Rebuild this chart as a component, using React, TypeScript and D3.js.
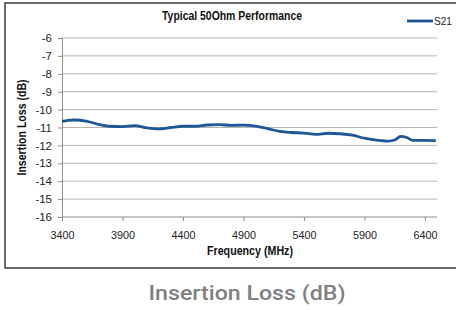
import { useEffect, useRef } from "react";
import * as d3 from "d3";

const freqMHz = [3400, 3450, 3500, 3600, 3700, 3800, 3900, 4000, 4100, 4200, 4300, 4400, 4500, 4600, 4700, 4800, 4900, 5000, 5100, 5200, 5300, 5400, 5500, 5600, 5700, 5800, 5900, 6000, 6100, 6150, 6200, 6250, 6300, 6400, 6490];
const s21 = [-10.66, -10.6, -10.58, -10.64, -10.82, -10.93, -10.95, -10.9, -11.02, -11.08, -11.0, -10.93, -10.93, -10.86, -10.84, -10.88, -10.87, -10.92, -11.06, -11.22, -11.28, -11.31, -11.38, -11.32, -11.35, -11.43, -11.6, -11.7, -11.76, -11.7, -11.5, -11.56, -11.72, -11.72, -11.74];
const xTicks = [3400, 3900, 4400, 4900, 5400, 5900, 6400];
const yTicks = [-6, -7, -8, -9, -10, -11, -12, -13, -14, -15, -16];

const W = 456, H = 310;
const m = { l: 62, r: 19, t: 38, b: 93 };
const font = "'Liberation Sans', Arial, sans-serif";

export default function App() {
  const ref = useRef<SVGSVGElement | null>(null);

  useEffect(() => {
    const svg = d3.select(ref.current);
    svg.selectAll("*").remove();

    const x = d3.scaleLinear().domain([3400, 6500]).range([m.l, W - m.r]);
    const y = d3.scaleLinear().domain([-16, -6]).range([H - m.b, m.t]);

    svg.append("rect").attr("width", W).attr("height", H).attr("fill", "white");

    // chart frame
    svg.append("rect")
      .attr("x", 5).attr("y", 3)
      .attr("width", W + 10).attr("height", 265)
      .attr("fill", "white")
      .attr("stroke", "#3a3a3a")
      .attr("stroke-width", 1.5);

    // grid
    svg.append("g")
      .selectAll("line")
      .data(yTicks.filter(d => d !== -16))
      .enter()
      .append("line")
      .attr("x1", m.l).attr("x2", W - m.r)
      .attr("y1", d => y(d)).attr("y2", d => y(d))
      .attr("stroke", "#b4b4b4")
      .attr("stroke-width", 1);

    const ay = d3.axisLeft(y).tickValues(yTicks).tickSize(4).tickPadding(6).tickFormat(d => String(d));
    svg.append("g")
      .attr("transform", `translate(${m.l},0)`)
      .call(ay as any)
      .call((g: any) => g.selectAll("path,line").attr("stroke", "#8c8c8c"))
      .call((g: any) => g.selectAll("text").attr("fill", "#222").attr("font-size", 11.5).attr("font-family", font));

    const ax = d3.axisBottom(x).tickValues(xTicks).tickSize(4).tickPadding(10).tickFormat(d => String(d));
    svg.append("g")
      .attr("transform", `translate(0,${H - m.b})`)
      .call(ax as any)
      .call((g: any) => g.select("path").attr("d", `M${m.l},0H${W - m.r}`))
      .call((g: any) => g.selectAll("path,line").attr("stroke", "#8c8c8c"))
      .call((g: any) => g.selectAll("text").attr("fill", "#222").attr("font-size", 11).attr("font-family", font)
        .attr("textLength", 24).attr("lengthAdjust", "spacingAndGlyphs"));

    const line = d3.line<number>()
      .x((_, i) => x(freqMHz[i]))
      .y(d => y(d))
      .curve(d3.curveMonotoneX);

    svg.append("path")
      .datum(s21)
      .attr("d", line)
      .attr("fill", "none")
      .attr("stroke", "#1f5796")
      .attr("stroke-width", 2.8)
      .attr("stroke-linejoin", "round");

    // title
    svg.append("text")
      .attr("x", 232).attr("y", 20)
      .attr("text-anchor", "middle")
      .attr("font-family", font)
      .attr("font-weight", "bold")
      .attr("font-size", 12.5)
      .attr("textLength", 140)
      .attr("lengthAdjust", "spacingAndGlyphs")
      .attr("fill", "#111")
      .text("Typical 50Ohm Performance");

    // legend
    svg.append("line")
      .attr("x1", 407).attr("x2", 433)
      .attr("y1", 21).attr("y2", 21)
      .attr("stroke", "#1f5796").attr("stroke-width", 2.8);
    svg.append("text")
      .attr("x", 434).attr("y", 25)
      .attr("font-family", font)
      .attr("font-size", 11)
      .attr("textLength", 18)
      .attr("lengthAdjust", "spacingAndGlyphs")
      .attr("fill", "#222")
      .text("S21");

    // axis titles
    svg.append("text")
      .attr("transform", `translate(26,${(m.t + H - m.b) / 2}) rotate(-90)`)
      .attr("text-anchor", "middle")
      .attr("font-family", font)
      .attr("font-weight", "bold")
      .attr("font-size", 12)
      .attr("textLength", 96)
      .attr("lengthAdjust", "spacingAndGlyphs")
      .attr("fill", "#111")
      .text("Insertion Loss (dB)");

    svg.append("text")
      .attr("x", 250).attr("y", 255)
      .attr("text-anchor", "middle")
      .attr("font-family", font)
      .attr("font-weight", "bold")
      .attr("font-size", 12)
      .attr("textLength", 86)
      .attr("lengthAdjust", "spacingAndGlyphs")
      .attr("fill", "#111")
      .text("Frequency (MHz)");

    // caption
    svg.append("text")
      .attr("x", 247).attr("y", 300)
      .attr("text-anchor", "middle")
      .attr("font-family", "Roboto, 'Liberation Sans', Arial, sans-serif")
      .attr("font-weight", 500)
      .attr("font-size", 21)
      .attr("textLength", 197)
      .attr("lengthAdjust", "spacingAndGlyphs")
      .attr("fill", "#808080")
      .text("Insertion Loss (dB)");
  }, []);

  return (
    <svg
      ref={ref}
      width={W}
      height={H}
      viewBox={`0 0 ${W} ${H}`}
      style={{ position: "absolute", left: 0, top: 0, display: "block" }}
    />
  );
}
